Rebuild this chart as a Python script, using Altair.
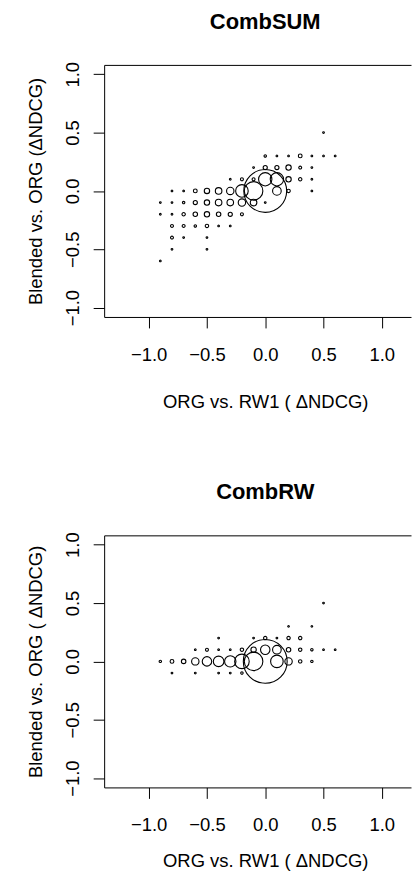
import altair as alt
import pandas as pd

# ---------------- data ----------------
# CombSUM panel: x = ORG vs. RW1 (dNDCG), y = Blended vs. ORG (dNDCG), n = relative bubble weight
sum_x = [0.5,
         0.0, 0.1, 0.2, 0.3, 0.4, 0.5, 0.6,
         -0.1, 0.0, 0.1, 0.2, 0.3, 0.4,
         -0.3, -0.2, -0.1, 0.0, 0.1, 0.2, 0.3, 0.4,
         -0.8, -0.7, -0.6, -0.5, -0.4, -0.3, -0.2, -0.1, 0.0, 0.1, 0.2, 0.4,
         -0.9, -0.8, -0.7, -0.6, -0.5, -0.4, -0.3, -0.2, -0.1, 0.0,
         -0.9, -0.8, -0.7, -0.6, -0.5, -0.4, -0.3, -0.2,
         -0.8, -0.7, -0.6, -0.5, -0.4, -0.3,
         -0.8, -0.7, -0.5,
         -0.8, -0.5,
         -0.9]
sum_y = [0.5,
         0.3, 0.3, 0.3, 0.3, 0.3, 0.3, 0.3,
         0.2, 0.2, 0.2, 0.2, 0.2, 0.2,
         0.1, 0.1, 0.1, 0.1, 0.1, 0.1, 0.1, 0.1,
         0.0, 0.0, 0.0, 0.0, 0.0, 0.0, 0.0, 0.0, 0.0, 0.0, 0.0, 0.0,
         -0.1, -0.1, -0.1, -0.1, -0.1, -0.1, -0.1, -0.1, -0.1, -0.1,
         -0.2, -0.2, -0.2, -0.2, -0.2, -0.2, -0.2, -0.2,
         -0.3, -0.3, -0.3, -0.3, -0.3, -0.3,
         -0.4, -0.4, -0.4,
         -0.5, -0.5,
         -0.6]
sum_n = [1,
         2, 1, 1, 5, 1, 1, 1,
         1, 6, 6, 10, 3, 1,
         1, 3, 3, 62, 62, 10, 4, 1,
         1, 1, 5, 10, 15, 19, 55, 120, 640, 26, 4, 1,
         1, 1, 2, 6, 10, 15, 15, 19, 15, 1,
         1, 1, 4, 7, 10, 7, 6, 3,
         3, 3, 2, 4, 1, 1,
         3, 1, 1,
         1, 1,
         1]

# CombRW panel
rw_x = [0.5,
        0.2, 0.4,
        -0.4, -0.1, 0.0, 0.1, 0.2, 0.3,
        -0.6, -0.5, -0.4, -0.3, -0.2, -0.1, 0.0, 0.1, 0.2, 0.3, 0.4, 0.5, 0.6,
        -0.9, -0.8, -0.7, -0.6, -0.5, -0.4, -0.3, -0.2, -0.1, 0.0, 0.1, 0.2, 0.3, 0.4,
        -0.8, -0.6, -0.4, -0.3, -0.2]
rw_y = [0.5,
        0.3, 0.3,
        0.2, 0.2, 0.2, 0.2, 0.2, 0.2,
        0.1, 0.1, 0.1, 0.1, 0.1, 0.1, 0.1, 0.1, 0.1, 0.1, 0.1, 0.1, 0.1,
        0.0, 0.0, 0.0, 0.0, 0.0, 0.0, 0.0, 0.0, 0.0, 0.0, 0.0, 0.0, 0.0, 0.0,
        -0.1, -0.1, -0.1, -0.1, -0.1]
rw_n = [1,
        1, 1,
        1, 1, 4, 1, 4, 4,
        1, 3, 1, 1, 4, 10, 31, 26, 7, 4, 2, 1, 1,
        2, 5, 7, 19, 31, 39, 45, 74, 120, 670, 55, 19, 4, 2,
        1, 1, 1, 1, 2]

tick_values = [-1.0, -0.5, 0.0, 0.5, 1.0]
titles = ["CombSUM", "CombRW"]
x_title = "ORG vs. RW1 ( \u0394NDCG)"
y_titles = ["Blended vs. ORG (\u0394NDCG)", "Blended vs. ORG (  \u0394NDCG)"]

# ---------------- layout ----------------
FONT = "Liberation Sans"
W, H = 308, 253
XMIN = -1.382
XMAX = XMIN + W / 117.0
YDOM = [-1.08, 1.08]
x0_px = (0 - XMIN) / (XMAX - XMIN) * W


def panel(xs, ys, ns, title, y_title, x_title_y):
    df = pd.DataFrame({"x": xs, "y": ys, "n": ns})
    xscale = alt.Scale(domain=[XMIN, XMAX], nice=False, zero=False)
    yscale = alt.Scale(domain=YDOM, nice=False, zero=False)
    pts = alt.Chart(df).mark_point(
        shape="circle", filled=False, color="black", strokeWidth=1.1, opacity=1
    ).encode(
        x=alt.X("x:Q", scale=xscale, axis=alt.Axis(
            orient="bottom", values=tick_values, format=".1f", grid=False,
            tickSize=11, tickColor="black", tickWidth=1,
            domainColor="black", domainWidth=1,
            labelFont=FONT, labelFontSize=18.5, labelColor="black",
            labelBaseline="alphabetic", labelPadding=32.7,
            labelOverlap=False, labelFlush=False,
            title=x_title, titleFont=FONT, titleFontSize=18.5,
            titleFontWeight="normal", titleColor="black",
            titleX=x0_px, titleY=x_title_y, titleAlign="center",
            titleBaseline="alphabetic")),
        y=alt.Y("y:Q", scale=yscale, axis=alt.Axis(
            orient="left", values=tick_values, format=".1f", grid=False,
            tickSize=11, tickColor="black", tickWidth=1,
            domainColor="black", domainWidth=1,
            labelFont=FONT, labelFontSize=18.5, labelColor="black",
            labelAngle=270, labelAlign="center", labelBaseline="alphabetic",
            labelPadding=14.3, labelOverlap=False, labelFlush=False,
            title=y_title, titleFont=FONT, titleFontSize=18.5,
            titleFontWeight="normal", titleColor="black",
            titleAngle=270, titleX=-63.3, titleY=H / 2,
            titleAlign="center", titleBaseline="alphabetic")),
        size=alt.Size("n:Q", scale=alt.Scale(type="linear", domain=[0, 1000],
                                              range=[0, 2890]), legend=None),
    )
    top = alt.Chart(df).mark_point(opacity=0).encode(
        x=alt.X("x:Q", scale=xscale, axis=alt.Axis(
            orient="top", labels=False, ticks=False, grid=False, title=None,
            domainColor="black", domainWidth=1)),
    )
    return alt.layer(pts, top).properties(
        width=W, height=H,
        title=alt.TitleParams(text=title, font=FONT, fontSize=22,
                              fontWeight="bold", color="black",
                              anchor="middle", frame="group",
                              dx=265.7 - (104 + W / 2), offset=11,
                              baseline="alphabetic"),
    )


chart = alt.vconcat(
    panel(sum_x, sum_y, sum_n, titles[0], y_titles[0], 91),
    panel(rw_x, rw_y, rw_n, titles[1], y_titles[1], 79),
    spacing=69.2,
).properties(
    padding={"left": 17.5, "top": 0.5, "right": 0, "bottom": 0},
).configure_view(stroke="transparent")

chart.save("out.html", embed_options={"renderer": "svg", "actions": False})
